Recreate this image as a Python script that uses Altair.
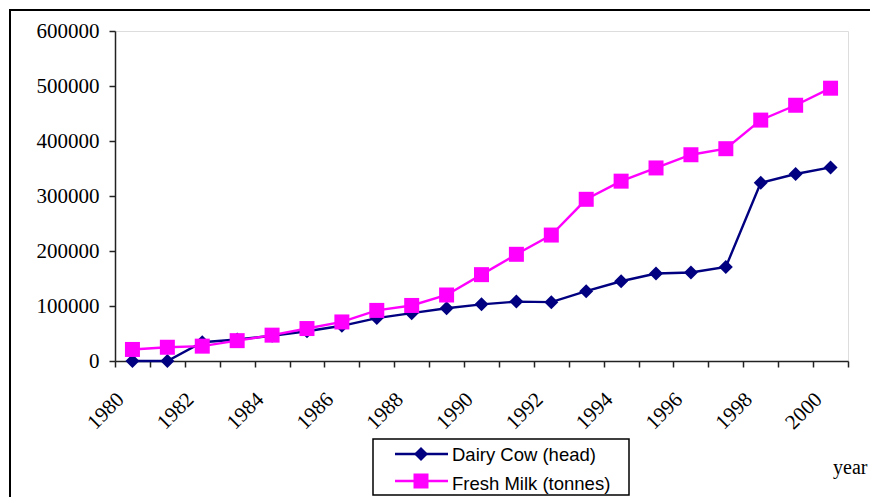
import altair as alt
import pandas as pd

years = [str(y) for y in range(1980, 2001)]
dairy_cow = [0, 0, 34000, 39000, 46000, 54000, 64000, 78000, 87000, 96000,
             103000, 108000, 107000, 127000, 145000, 159000, 161000, 171000,
             324000, 340000, 352000]
fresh_milk = [21000, 25000, 27000, 37000, 47000, 59000, 71000, 92000, 101000, 120000,
              157000, 194000, 229000, 294000, 327000, 351000, 375000, 386000,
              438000, 465000, 496000]
series_names = ["Dairy Cow (head)", "Fresh Milk (tonnes)"]
series_colors = ["#000080", "#FF00FF"]
series_shapes = ["diamond", "square"]
series_sizes = [196, 225]
y_ticks = [0, 100000, 200000, 300000, 400000, 500000, 600000]

df = pd.DataFrame({
    "year": years * 2,
    "value": dairy_cow + fresh_milk,
    "series": [series_names[0]] * len(years) + [series_names[1]] * len(years),
})

x_enc = alt.X("year:O", sort=years,
              scale=alt.Scale(type="band", paddingInner=0, paddingOuter=0),
              axis=alt.Axis(title=None, labelAngle=-45, labelAlign="right",
                            labelBaseline="middle", labelOffset=-12, labelPadding=29,
                            tickBand="extent", tickSize=6, tickColor="#222",
                            domainColor="#222", domainWidth=1.5, tickWidth=1.5,
                            labelFont="Liberation Serif", labelFontSize=21,
                            labelColor="black", grid=False,
                            labelExpr="parseInt(datum.value) % 2 == 0 ? datum.value : ''"))
y_enc = alt.Y("value:Q",
              scale=alt.Scale(domain=[0, 600000], nice=False),
              axis=alt.Axis(title=None, values=y_ticks, format="d", tickSize=6,
                            labelPadding=10, tickColor="#222", domainColor="#222",
                            domainWidth=1.5, tickWidth=1.5,
                            labelFont="Liberation Serif", labelFontSize=21,
                            labelColor="black", grid=False))

layers = []
# outer frame
layers.append(alt.Chart(pd.DataFrame({"a": [0]})).mark_rect(
    fill="transparent", stroke="black", strokeWidth=2).encode(
    x=alt.value(-105), x2=alt.value(900), y=alt.value(-21), y2=alt.value(600)))

for i, name in enumerate(series_names):
    base = alt.Chart(df).transform_filter(alt.datum.series == name)
    layers.append(base.mark_line(color=series_colors[i], strokeWidth=2.4).encode(x=x_enc, y=y_enc))
    layers.append(base.mark_point(shape=series_shapes[i], size=series_sizes[i], filled=True,
                                  color=series_colors[i], opacity=1).encode(x=x_enc, y=y_enc))

# legend box
legend_df = pd.DataFrame({"a": [0]})
layers.append(alt.Chart(legend_df).mark_rect(fill="white", stroke="black", strokeWidth=1.5).encode(
    x=alt.value(258), x2=alt.value(514), y=alt.value(408), y2=alt.value(464)))
row_y = [423, 450]
text_y = [430, 459]
for i, name in enumerate(series_names):
    layers.append(alt.Chart(legend_df).mark_rule(color=series_colors[i], strokeWidth=2.4).encode(
        x=alt.value(280), x2=alt.value(333), y=alt.value(row_y[i])))
    layers.append(alt.Chart(legend_df).mark_point(shape=series_shapes[i], size=series_sizes[i],
                                                  filled=True, color=series_colors[i], opacity=1).encode(
        x=alt.value(306), y=alt.value(row_y[i])))
    layers.append(alt.Chart(pd.DataFrame({"t": [name]})).mark_text(
        align="left", baseline="alphabetic", font="Liberation Sans", fontSize=18.5, color="black").encode(
        x=alt.value(337), y=alt.value(text_y[i]), text="t:N"))

layers.append(alt.Chart(pd.DataFrame({"t": ["year"]})).mark_text(
    align="left", baseline="alphabetic", font="Liberation Serif", fontSize=20, color="black").encode(
    x=alt.value(718), y=alt.value(443), text="t:N"))

chart = alt.layer(*layers).properties(
    width=733, height=330,
    autosize=alt.AutoSizeParams(type="none"),
    padding={"left": 107, "top": 23, "right": 22, "bottom": 136},
).configure_view(stroke="#808080", strokeWidth=2).configure(background="white")

chart.save("out.html", embed_options={"renderer": "svg", "actions": False})
